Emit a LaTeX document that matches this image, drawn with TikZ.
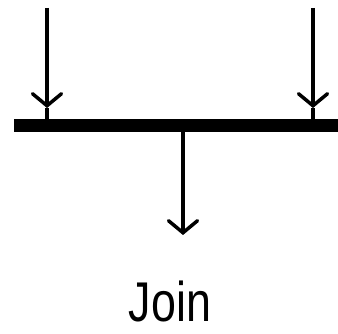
\documentclass[tikz,border=0pt]{standalone}
\usepackage{fontspec}
\setmainfont{Liberation Sans}
\usetikzlibrary{positioning,arrows.meta,calc}
\tikzset{
  flowarrow/.style={-{Straight Barb[length=12pt, width=29pt, line cap=round]}, line width=3.5pt},
  stemline/.style={line width=3.5pt},
  barnode/.style={draw=none, fill=black, inner sep=0pt, minimum width=324pt, minimum height=13pt},
  joinlabel/.style={font=\fontsize{56}{58}\selectfont, inner sep=0pt, xscale=0.8}
}
\begin{document}
\begin{tikzpicture}[x=1pt, y=1pt]
  \useasboundingbox (0,0) rectangle (338,-334);
  \node[barnode] (bar) at (176,-125.5) {};
  \coordinate (in1) at (47,-8);
  \coordinate (in2) at (313,-8);
  \coordinate (tip1) at (47,-108);
  \coordinate (tip2) at (313,-108);
  \coordinate (out) at (183,-235);
  \draw[flowarrow] (in1) -- (tip1);
  \draw[stemline] (tip1) -- (tip1 |- bar.north);
  \draw[flowarrow] (in2) -- (tip2);
  \draw[stemline] (tip2) -- (tip2 |- bar.north);
  \draw[flowarrow] (out |- bar.south) -- (out);
  \node[joinlabel, anchor=base] (join) at (170,-322) {Join};
\end{tikzpicture}
\end{document}
